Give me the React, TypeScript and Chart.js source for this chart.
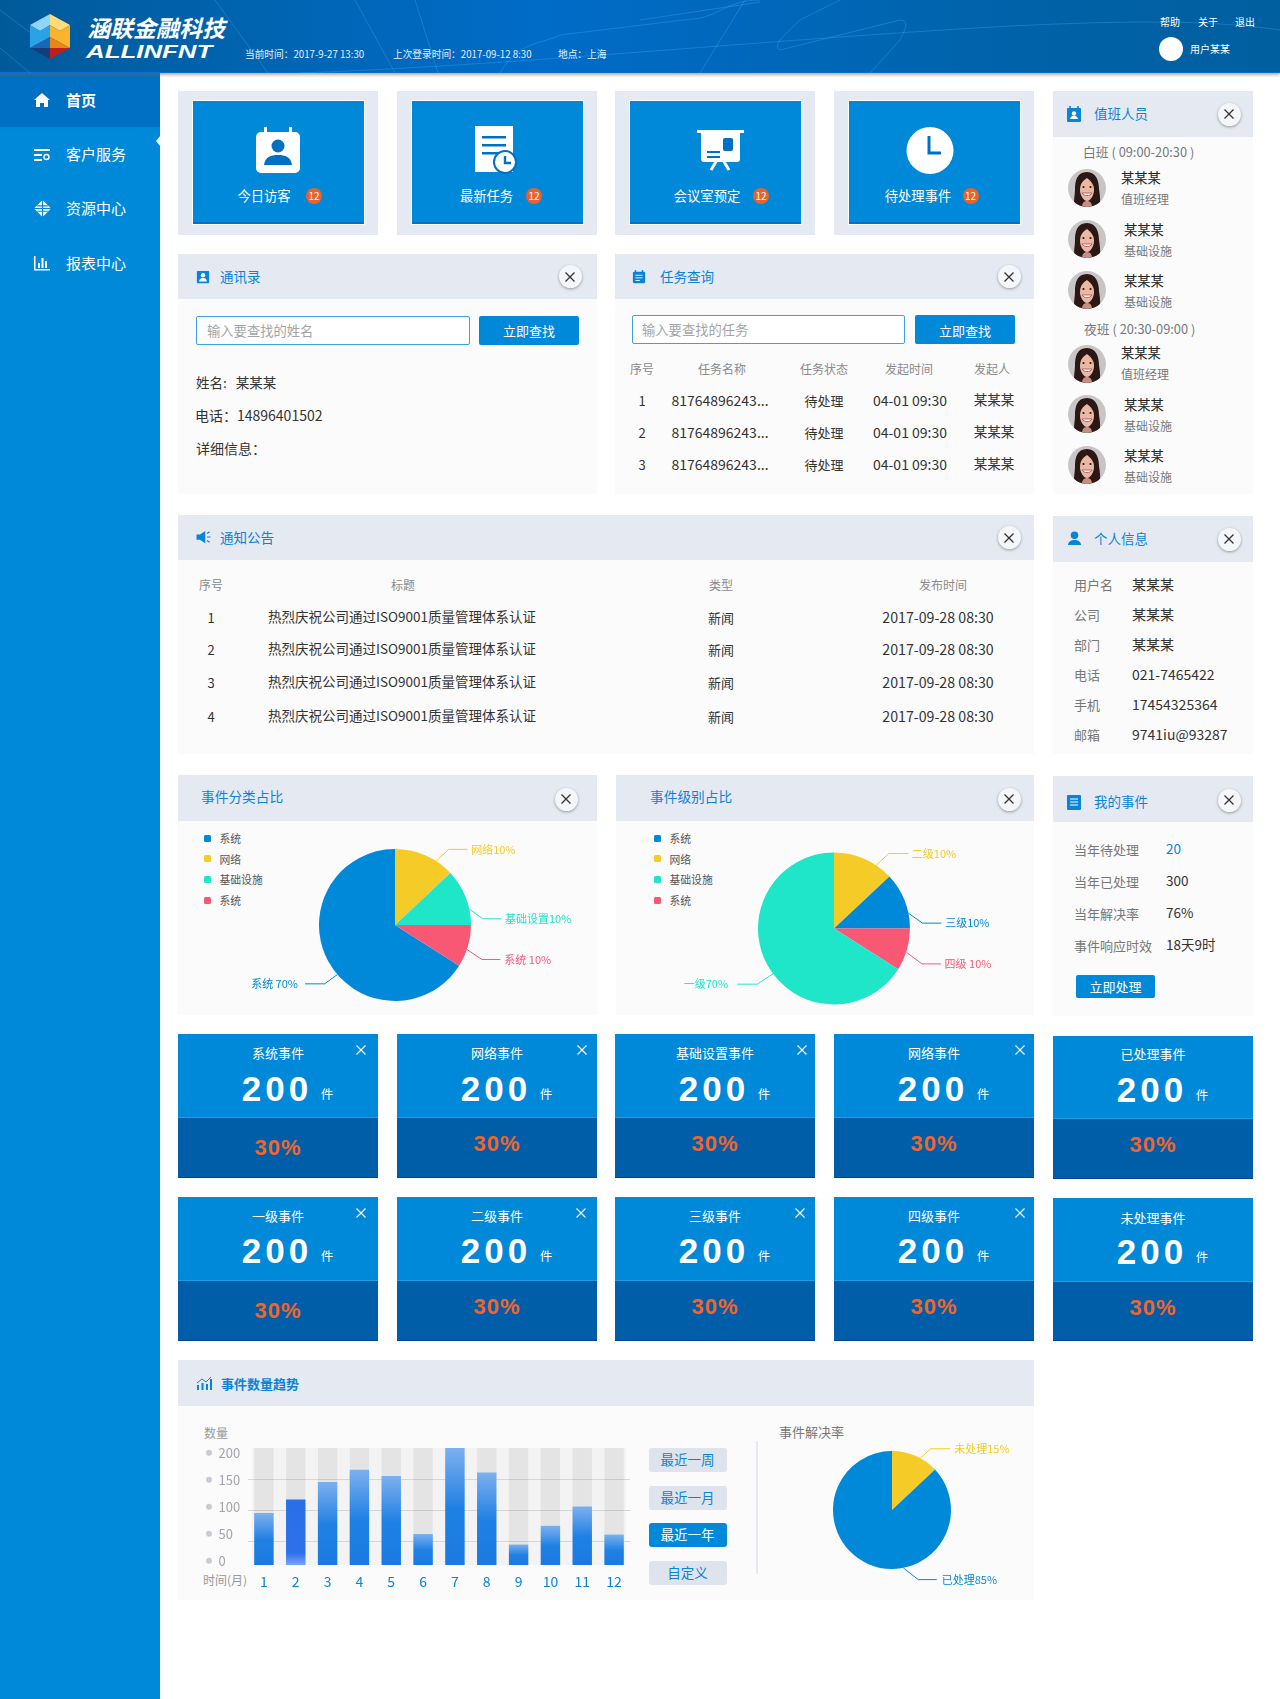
import React, { useEffect, useRef } from "react";
import { Chart, registerables } from "chart.js";

Chart.register(...registerables);

const FONT = '"Noto Sans CJK SC","Noto Sans",sans-serif';
const BLUE = "#0089d8";
const YELLOW = "#f4cb27";
const TEAL = "#1fe6c8";
const PINK = "#f95875";

// ---- chart data ----
const months = ["1", "2", "3", "4", "5", "6", "7", "8", "9", "10", "11", "12"];
const monthlyEvents = [89, 112, 142, 163, 152, 53, 200, 158, 35, 67, 100, 52];
const monthlyTrack = [200, 200, 200, 200, 200, 200, 200, 200, 200, 200, 200, 200];
const countTicks = [0, 50, 100, 150, 200];
const gridTicks = [50, 100, 150];

const categoryLabels = ["系统 70%", "网络10%", "基础设置10%", "系统 10%"];
const categoryValues = [66, 13, 12, 9];
const categoryColors = [BLUE, YELLOW, TEAL, PINK];

const levelLabels = ["二级10%", "三级10%", "四级 10%", "一级70%"];
const levelValues = [13, 12, 9, 66];
const levelColors = [YELLOW, BLUE, PINK, TEAL];

const rateLabels = ["未处理15%", "已处理85%"];
const rateValues = [13, 87];
const rateColors = [YELLOW, BLUE];

const legendNames = ["系统", "网络", "基础设施", "系统"];
const legendColors = [BLUE, YELLOW, TEAL, PINK];

// ---- page text ----
const navItems = ["首页", "客户服务", "资源中心", "报表中心"];
const notices = ["1", "2", "3", "4"];
const personal = [
  ["用户名", "某某某"], ["公司", "某某某"], ["部门", "某某某"],
  ["电话", "021-7465422"], ["手机", "17454325364"], ["邮箱", "9741iu@93287"],
];
const myEvents = [
  ["当年待处理", "20"], ["当年已处理", "300"], ["当年解决率", "76%"], ["事件响应时效", "18天9时"],
];
const kpiTop = ["系统事件", "网络事件", "基础设置事件", "网络事件", "已处理事件"];
const kpiBottom = ["一级事件", "二级事件", "三级事件", "四级事件", "未处理事件"];
const ranges = ["最近一周", "最近一月", "最近一年", "自定义"];

// ---- layout helpers ----
type TP = { x: number; y: number; s?: number; c?: string; a?: "l" | "c" | "r"; b?: boolean; f?: string; children: any; st?: any };
function T({ x, y, s = 13, c = "#333", a = "l", b, f, children, st }: TP) {
  const tx = a === "l" ? "0" : a === "c" ? "-50%" : "-100%";
  return (
    <div style={{ position: "absolute", left: x, top: y, fontSize: s, color: c, lineHeight: 1, fontWeight: b ? 700 : 400, fontFamily: f || FONT, whiteSpace: "pre", transform: `translate(${tx},-50%)`, ...st }}>
      {children}
    </div>
  );
}
function Box({ x, y, w, h, bg, st, children }: any) {
  return <div style={{ position: "absolute", left: x, top: y, width: w, height: h, background: bg, ...st }}>{children}</div>;
}
function Cross({ cx, cy, size = 10, color = "#333", sw = 1.3 }: any) {
  return (
    <svg style={{ position: "absolute", left: cx - size / 2, top: cy - size / 2 }} width={size} height={size} viewBox="0 0 10 10">
      <path d="M0.5 0.5L9.5 9.5M9.5 0.5L0.5 9.5" stroke={color} strokeWidth={sw} fill="none" />
    </svg>
  );
}
function Close({ cx, cy }: any) {
  return (
    <>
      <div style={{ position: "absolute", left: cx - 11.5, top: cy - 11.5, width: 23, height: 23, borderRadius: "50%", background: "#f4f6f9", boxShadow: "0 1px 3px rgba(0,0,0,.35)" }} />
      <Cross cx={cx} cy={cy} />
    </>
  );
}
function Ic({ x, y, w = 16, h = 16, vb = "0 0 16 16", children }: any) {
  return <svg style={{ position: "absolute", left: x, top: y }} width={w} height={h} viewBox={vb}>{children}</svg>;
}
function Panel({ x, y, w, h, hh, title, tx, close, icon, tsize = 13.5, bold, titleDy = 0, closeDy = 0 }: any) {
  return (
    <>
      <Box x={x} y={y} w={w} h={h} bg="#fbfbfc" />
      <Box x={x} y={y} w={w} h={hh} bg="#e5e9f2" />
      <T x={tx} y={y + hh / 2 + titleDy} s={tsize} c="#0a84d6" b={bold}>{title}</T>
      {icon}
      {close && <Close cx={close} cy={y + hh / 2 + closeDy} />}
    </>
  );
}

function Avatar({ cx, cy }: any) {
  return (
    <div style={{ position: "absolute", left: cx - 19, top: cy - 19, width: 38, height: 38, borderRadius: "50%", overflow: "hidden" }}>
      <svg width="38" height="38" viewBox="0 0 38 38">
        <rect width="38" height="38" fill="#c9c5c6" />
        <path d="M19 3C9 3 7 12 7 20c0 7-2 12 0 18h24c2-6 1-11 0-18 0-8-3-17-12-17z" fill="#2b1713" />
        <path d="M14 38c0-4 2-6 5-6s5 2 5 6z" fill="#c88f80" />
        <path d="M19 9c-5 3-7 7-7 12 0 6 4 11 7 11s7-5 7-11c0-5-2-8-7-12z" fill="#eab9a3" />
        <path d="M14 24c2 3.5 8 3.5 10 0z" fill="#fff" stroke="#b4424a" strokeWidth=".8" />
        <circle cx="15.5" cy="18" r="1.1" fill="#2b1713" />
        <circle cx="22.5" cy="18" r="1.1" fill="#2b1713" />
      </svg>
    </div>
  );
}

// ---- chart components ----
type Leader = { t: number; dx: number; dy: number; run: number; gap: number };
const leaderPlugin = {
  id: "leaders",
  afterDatasetsDraw(chart: any, _a: any, opts: any) {
    const ctx = chart.ctx;
    const arcs = chart.getDatasetMeta(0).data;
    const leaders: Leader[] = opts.leaders || [];
    arcs.forEach((arc: any, i: number) => {
      const l = leaders[i];
      if (!l) return;
      const ang = arc.startAngle + l.t * (arc.endAngle - arc.startAngle);
      const ax = arc.x + arc.outerRadius * Math.cos(ang);
      const ay = arc.y + arc.outerRadius * Math.sin(ang);
      const ex = ax + l.dx;
      const ey = ay + l.dy;
      const fx = ex + l.run;
      const color = arc.options.backgroundColor;
      ctx.save();
      ctx.strokeStyle = color;
      ctx.lineWidth = 1;
      ctx.beginPath();
      ctx.moveTo(ax, ay);
      ctx.lineTo(ex, ey);
      ctx.lineTo(fx, ey);
      ctx.stroke();
      ctx.fillStyle = color;
      ctx.font = `11px ${FONT}`;
      ctx.textBaseline = "middle";
      ctx.textAlign = l.run > 0 ? "left" : "right";
      ctx.fillText(chart.data.labels[i], fx + (l.run > 0 ? l.gap : -l.gap), ey);
      ctx.restore();
    });
  },
};

function Pie({ x, y, w, h, pad, labels, values, colors, rotation, radius, leaders }: any) {
  const ref = useRef<HTMLCanvasElement>(null);
  useEffect(() => {
    const chart = new Chart(ref.current as any, {
      type: "pie",
      data: { labels, datasets: [{ data: values, backgroundColor: colors, borderWidth: 0, radius }] },
      options: {
        animation: false,
        responsive: false,
        rotation,
        layout: { padding: pad },
        plugins: { legend: { display: false }, tooltip: { enabled: false }, leaders: { leaders } },
      } as any,
      plugins: [leaderPlugin as any],
    });
    return () => chart.destroy();
  }, []);
  return <canvas ref={ref} width={w} height={h} style={{ position: "absolute", left: x, top: y, width: w, height: h }} />;
}

function barFill(ctx: any) {
  const scale = ctx.chart.scales.y;
  if (!scale || !ctx.chart.chartArea) return "#1f80e4";
  const top = scale.getPixelForValue(monthlyEvents[ctx.dataIndex]);
  const base = scale.getPixelForValue(0);
  const g = ctx.chart.ctx.createLinearGradient(0, top, 0, base);
  if (ctx.dataIndex === 1) {
    g.addColorStop(0, "#2a6ee8");
    g.addColorStop(0.82, "#2e71ea");
    g.addColorStop(1, "#7aa3f2");
  } else {
    g.addColorStop(0, "#7db0ef");
    g.addColorStop(0.52, "#1f80e4");
    g.addColorStop(1, "#1a7ae2");
  }
  return g;
}

const barDecor = {
  id: "barDecor",
  beforeDraw(chart: any) {
    const { ctx, chartArea: a } = chart;
    ctx.save();
    ctx.fillStyle = "#f3f3f3";
    ctx.fillRect(a.left + 4, a.top, a.width - 8, a.height);
    ctx.restore();
  },
  afterDraw(chart: any) {
    const { ctx } = chart;
    const s = chart.scales.yLabels;
    ctx.save();
    ctx.fillStyle = "#c9ccd4";
    countTicks.forEach((v) => {
      ctx.beginPath();
      ctx.arc(19, s.getPixelForValue(v), 3, 0, Math.PI * 2);
      ctx.fill();
    });
    ctx.restore();
  },
};

function Bars() {
  const ref = useRef<HTMLCanvasElement>(null);
  useEffect(() => {
    const chart = new Chart(ref.current as any, {
      type: "bar",
      data: {
        labels: months,
        datasets: [
          { data: monthlyEvents, backgroundColor: barFill, order: 1, yAxisID: "y" },
          { data: monthlyTrack, backgroundColor: "rgba(0,0,0,0.06)", order: 2, yAxisID: "y" },
        ],
      },
      options: {
        animation: false,
        responsive: false,
        layout: { padding: { top: 12, left: 28.6 } },
        datasets: { bar: { grouped: false, barPercentage: 0.61, categoryPercentage: 1, borderWidth: 0 } },
        plugins: { legend: { display: false }, tooltip: { enabled: false } },
        scales: {
          x: {
            offset: true,
            grid: { display: false },
            border: { display: false },
            ticks: { color: "#0a84d6", font: { size: 14, family: FONT }, padding: 0, maxRotation: 0, autoSkip: false },
            afterFit: (s: any) => { s.height = 30; },
          },
          y: { display: false, min: 0, max: 200 },
          // the reference's printed count labels sit slightly inside the plot, so they have their own axis
          yLabels: {
            position: "left",
            min: -8.1,
            max: 208.7,
            grid: { display: false },
            border: { display: false },
            afterBuildTicks: (s: any) => { s.ticks = countTicks.map((value) => ({ value })); },
            ticks: { color: "#a2a5ab", font: { size: 13, family: FONT }, crossAlign: "far", padding: 0 },
            afterFit: (s: any) => { s.width = 29.4; s.paddingTop = 0; s.paddingBottom = 0; },
          },
          // faint rules of the reference, evenly spaced down from the top of the plot
          yGrid: {
            position: "left",
            min: 12.5,
            max: 200,
            border: { display: false },
            grid: { color: "#d6d6d6", drawTicks: false },
            afterBuildTicks: (s: any) => { s.ticks = gridTicks.map((value) => ({ value })); },
            ticks: { display: false },
            afterFit: (s: any) => { s.width = 0; },
          },
        },
      } as any,
      plugins: [barDecor as any],
    });
    return () => chart.destroy();
  }, []);
  return <canvas ref={ref} width={440} height={159} style={{ position: "absolute", left: 190, top: 1436, width: 440, height: 159 }} />;
}

// ---- static sections ----
function Header() {
  return (
    <>
      <Box x={0} y={0} w={1280} h={73} bg="linear-gradient(90deg,#005a9a 0%,#0063ae 18%,#006cc8 42%,#0068bc 58%,#0062a8 80%,#005f9f 100%)" st={{ boxShadow: "0 2px 3px rgba(130,100,70,.55)", borderBottom: "1px solid #0a6fd0", boxSizing: "border-box" }} />
      <svg style={{ position: "absolute", left: 0, top: 0 }} width="1280" height="73" viewBox="0 0 1280 73">
        <g fill="none" stroke="#4fb2ff" strokeOpacity=".3" strokeWidth="1">
          <path d="M300 73C520 65 760 40 1010 26C1100 22 1200 18 1280 30" />
          <path d="M0 10L40 40M0 48L30 73M215 0L268 73M355 0L395 73M415 0L438 73" />
          <path d="M500 73C520 40 540 45 560 35L700 18C720 14 730 0 760 0" />
          <path d="M640 20L760 2M780 50L900 20C910 20 905 30 900 40L870 73M780 50C770 46 790 30 800 20L840 0" />
          <path d="M745 0L700 73" />
        </g>
      </svg>
      <svg style={{ position: "absolute", left: 30, top: 14 }} width="40" height="45" viewBox="0 0 40 45">
        <polygon points="20,0 0,11 10,17 20,11" fill="#8fd5f7" />
        <polygon points="20,0 40,11 30,17 20,11" fill="#ffdb7a" />
        <polygon points="0,11 10,17 20,11 20,23 0,34" fill="#2aa3e6" />
        <polygon points="40,11 30,17 20,11 20,23 40,34" fill="#f7b42c" />
        <polygon points="0,34 20,23 20,34" fill="#1668b8" />
        <polygon points="40,34 20,23 20,34" fill="#e88618" />
        <polygon points="0,34 20,34 20,45" fill="#133e7c" />
        <polygon points="40,34 20,34 20,45" fill="#bd1f1b" />
      </svg>
      <T x={87} y={27} s={23} c="#fff" b st={{ fontStyle: "italic" }}>涵联金融科技</T>
      <T x={86} y={51} s={19} c="#fff" b f='"Liberation Sans",sans-serif' st={{ fontStyle: "italic", transform: "translate(0,-50%) scaleX(1.36)", transformOrigin: "left center" }}>ALLINFNT</T>
      <T x={245} y={55} s={9.7} c="#e3f0ff">当前时间：2017-9-27 13:30</T>
      <T x={393} y={55} s={9.7} c="#e3f0ff">上次登录时间：2017-09-12 8:30</T>
      <T x={558} y={55} s={9.7} c="#e3f0ff">地点：上海</T>
      <T x={1160} y={22} s={10} c="#fff">帮助</T>
      <T x={1198} y={22} s={10} c="#fff">关于</T>
      <T x={1235} y={22} s={10} c="#fff">退出</T>
      <div style={{ position: "absolute", left: 1158.5, top: 37, width: 24, height: 24, borderRadius: "50%", background: "#fff" }} />
      <T x={1190} y={49} s={10} c="#fff">用户某某</T>
    </>
  );
}

function Sidebar() {
  const ys = [99, 153, 207, 262];
  return (
    <>
      <Box x={0} y={73} w={160} h={1626} bg={BLUE} />
      <Box x={0} y={73} w={160} h={54} bg="#0070c4" />
      <div style={{ position: "absolute", left: 156, top: 135, width: 0, height: 0, borderTop: "6px solid transparent", borderBottom: "6px solid transparent", borderRight: "5px solid #fff" }} />
      {navItems.map((n, i) => <T key={i} x={66} y={ys[i]} s={15} c="#fff" b={i === 0}>{n}</T>)}
      <Ic x={34} y={92}><path d="M8 1L0 8h2v7h4v-4h4v4h4V8h2z" fill="#fff" /></Ic>
      <Ic x={34} y={147}><path d="M0 2h16v2H0zM0 7h8v2H0zM0 12h8v2H0z" fill="#fff" /><circle cx="12.5" cy="10" r="2.5" fill="none" stroke="#fff" strokeWidth="1.4" /></Ic>
      <Ic x={34} y={200} w={17} h={17} vb="0 0 16 16">
        <polygon points="8,0 16,8 8,16 0,8" fill="#fff" />
        <path d="M8 0v16M0 8h16M3 5.500h10M3 10.500h10" stroke={BLUE} strokeWidth="1" />
      </Ic>
      <Ic x={34} y={255}><path d="M0 1h1.5v13H16v1.5H0zM4 8h2v5H4zM7.5 3h2v10h-2zM11 6h2v7h-2z" fill="#fff" /></Ic>
    </>
  );
}

function TopCards() {
  const xs = [178, 397, 615, 834];
  const names = ["今日访客", "最新任务", "会议室预定", "待处理事件"];
  const textX = [264, 486.5, 707, 918];
  const badgeX = [314, 534, 761, 970.5];
  return (
    <>
      {xs.map((x, i) => (
        <React.Fragment key={i}>
          <Box x={x} y={91} w={200} h={144} bg="#e5e9f2" />
          <Box x={x + 14} y={100} w={173} h={125} bg={BLUE} st={{ border: "1px solid #fff", borderBottom: "1px solid #fff", boxShadow: "inset 0 -2px 0 #0072c6", boxSizing: "border-box" }} />
          <T x={textX[i]} y={196} a="c" s={13.3} c="#fff">{names[i]}</T>
          <div style={{ position: "absolute", left: badgeX[i] - 8, top: 188, width: 16, height: 16, borderRadius: "50%", background: "#e8622a" }} />
          <T x={badgeX[i]} y={196} a="c" s={10} c="#fff">12</T>
        </React.Fragment>
      ))}
      <Ic x={256} y={127} w={44} h={46} vb="0 0 44 46">
        <rect x="8" y="0" width="3" height="8" fill="#fff" /><rect x="33" y="0" width="3" height="8" fill="#fff" />
        <rect x="0" y="5" width="44" height="41" rx="5" fill="#fff" />
        <circle cx="22" cy="19" r="6.5" fill="#0070c4" /><path d="M8 38c1-8 7-10 14-10s13 2 14 10z" fill="#0070c4" />
      </Ic>
      <Ic x={475} y={126} w={42} h={48} vb="0 0 42 48">
        <rect x="0" y="0" width="38" height="46" fill="#fff" />
        <path d="M7 10h24v2.5H7zM7 18h24v2.5H7zM7 26h16v2.5H7z" fill="#0070c4" />
        <circle cx="30" cy="36" r="11" fill="#fff" stroke="#0070c4" strokeWidth="2" />
        <path d="M30 30v7h6" fill="none" stroke="#0070c4" strokeWidth="2.4" />
      </Ic>
      <Ic x={697} y={130} w={47} h={41} vb="0 0 47 41">
        <rect x="0" y="0" width="47" height="3" fill="#fff" />
        <path d="M4 2h39v27a3 3 0 01-3 3H7a3 3 0 01-3-3z" fill="#fff" />
        <path d="M10 21h13v2H10zM10 26h13v2H10z" fill="#0070c4" />
        <rect x="26" y="8" width="10" height="13" rx="2" fill="#0070c4" />
        <path d="M20 30l-6 10M26 30l6 10" stroke="#fff" strokeWidth="3" />
      </Ic>
      <Ic x={906} y={127} w={48} h={47} vb="0 0 48 47">
        <circle cx="24" cy="23.5" r="23.5" fill="#fff" />
        <path d="M23 9v17h12" fill="none" stroke="#0070c4" strokeWidth="3" />
      </Ic>
    </>
  );
}

const blueIcon = (p: any) => <Ic {...p} />;

function Contact() {
  return (
    <>
      <Panel x={178} y={254} w={419} h={240} hh={45} title="通讯录" tx={220} close={570}
        icon={blueIcon({ x: 196, y: 270, w: 14, h: 14, children: <><rect x="1" y="1" width="14" height="14" rx="1" fill="#0a84d6" /><circle cx="8" cy="6" r="2.5" fill="#fff" /><path d="M3.5 13c.5-3 2-4 4.5-4s4 1 4.5 4z" fill="#fff" /></> })} />
      <Box x={196} y={316} w={274} h={29} bg="#fff" st={{ border: "1px solid #3fa0e0", boxSizing: "border-box", borderRadius: 2 }} />
      <T x={207} y={330.5} s={13.3} c="#a4a4a4">输入要查找的姓名</T>
      <Box x={479} y={316} w={100} h={29} bg={BLUE} st={{ borderRadius: 2 }} />
      <T x={529} y={330} a="c" c="#fff">立即查找</T>
      <T x={196} y={382.5} s={13.5}>{"姓名:   某某某"}</T>
      <T x={195} y={415} s={14}>电话：14896401502</T>
      <T x={196} y={447.5} s={14}>详细信息：</T>
    </>
  );
}

function Tasks() {
  const ys = [400, 432, 464];
  const head = [["序号", 642], ["任务名称", 722], ["任务状态", 824], ["发起时间", 909], ["发起人", 992]];
  return (
    <>
      <Panel x={615} y={254} w={419} h={240} hh={45} title="任务查询" tx={660} close={1009}
        icon={blueIcon({ x: 632, y: 270, w: 14, h: 14, children: <><rect x="1" y="2" width="14" height="13" rx="1.5" fill="#0a84d6" /><path d="M4 6h8M4 9h8M4 12h5" stroke="#fff" strokeWidth="1" /><path d="M4 0v3M12 0v3" stroke="#0a84d6" strokeWidth="1.6" /></> })} />
      <Box x={632} y={315} w={273} h={29} bg="#fff" st={{ border: "1px solid #3fa0e0", boxSizing: "border-box", borderRadius: 2 }} />
      <T x={642} y={330} s={13.3} c="#a4a4a4">输入要查找的任务</T>
      <Box x={915} y={315} w={100} h={29} bg={BLUE} st={{ borderRadius: 2 }} />
      <T x={965} y={329.5} a="c" c="#fff">立即查找</T>
      {head.map(([h, x]: any, i) => <T key={i} x={x} y={368.5} a="c" s={12} c="#8a8a8a">{h}</T>)}
      {ys.map((y, i) => (
        <React.Fragment key={i}>
          <T x={642} y={y} a="c">{i + 1}</T>
          <T x={720} y={y} a="c" s={14}>81764896243...</T>
          <T x={824} y={y} a="c">待处理</T>
          <T x={910} y={y} a="c" s={14}>04-01 09:30</T>
          <T x={994} y={y} a="c" s={13.5}>某某某</T>
        </React.Fragment>
      ))}
    </>
  );
}

function Duty() {
  const rows = [
    [188, 178, 199, 1121, "值班经理"], [239, 230, 251, 1124, "基础设施"], [290, 281, 302, 1124, "基础设施"],
    [364, 353, 374, 1121, "值班经理"], [414, 405, 426, 1124, "基础设施"], [465, 456, 477, 1124, "基础设施"],
  ] as any[];
  return (
    <>
      <Panel x={1053} y={91} w={200} h={403} hh={46} title="值班人员" tx={1094} close={1229}
        icon={blueIcon({ x: 1066, y: 106, w: 16, h: 16, children: <><rect x="1" y="2" width="14" height="14" rx="1" fill="#0a84d6" /><path d="M4 0v4M12 0v4" stroke="#0a84d6" strokeWidth="1.6" /><circle cx="8" cy="7.5" r="2.2" fill="#fff" /><path d="M4 13c.5-2.5 2-3 4-3s3.500.5 4 3z" fill="#fff" /></> })} />
      <T x={1083} y={152} s={12.8} c="#777">白班 ( 09:00-20:30 )</T>
      <T x={1084} y={329} s={12.8} c="#777">夜班 ( 20:30-09:00 )</T>
      {rows.map(([cy, ny, ry, x, role], i) => (
        <React.Fragment key={i}>
          <Avatar cx={1087} cy={cy} />
          <T x={x} y={ny} s={13.3} c="#222">某某某</T>
          <T x={x} y={ry} s={12} c="#777">{role}</T>
        </React.Fragment>
      ))}
    </>
  );
}

function Notice() {
  const ys = [617, 649, 682, 716];
  return (
    <>
      <Panel x={178} y={515} w={856} h={239} hh={45} title="通知公告" tx={220} close={1009}
        icon={blueIcon({ x: 196, y: 530, w: 15, h: 14, children: <><path d="M0 5h4l6-4v14l-6-4H0z" fill="#0a84d6" /><path d="M12 4l3-2M12 8h4M12 12l3 2" stroke="#0a84d6" strokeWidth="1.3" /></> })} />
      <T x={211} y={585} a="c" s={12} c="#8a8a8a">序号</T>
      <T x={403} y={585} a="c" s={12} c="#8a8a8a">标题</T>
      <T x={721} y={585} a="c" s={12} c="#8a8a8a">类型</T>
      <T x={943} y={585} a="c" s={12} c="#8a8a8a">发布时间</T>
      {notices.map((n, i) => (
        <React.Fragment key={i}>
          <T x={211} y={ys[i]} a="c">{n}</T>
          <T x={268} y={ys[i]} s={13.5}>热烈庆祝公司通过ISO9001质量管理体系认证</T>
          <T x={721} y={ys[i]} a="c">新闻</T>
          <T x={938} y={ys[i]} a="c" s={14.2}>2017-09-28 08:30</T>
        </React.Fragment>
      ))}
    </>
  );
}

function Personal() {
  const ys = [584, 614, 644, 674, 704, 734];
  return (
    <>
      <Panel x={1053} y={516} w={200} h={238} hh={46} title="个人信息" tx={1094} close={1229}
        icon={blueIcon({ x: 1067, y: 531, w: 15, h: 15, children: <><circle cx="8" cy="4.500" r="4" fill="#0a84d6" /><path d="M1 15c.5-4 3-5.500 7-5.500s6.500 1.500 7 5.500z" fill="#0a84d6" /></> })} />
      {personal.map(([k, v], i) => (
        <React.Fragment key={i}>
          <T x={1074} y={ys[i]} c="#777">{k}</T>
          <T x={1132} y={ys[i]} s={14}>{v}</T>
        </React.Fragment>
      ))}
    </>
  );
}

function MyEvents() {
  const ys = [849, 881, 913, 945];
  return (
    <>
      <Panel x={1053} y={776} w={200} h={240} hh={46} title="我的事件" tx={1094} close={1229} titleDy={3} closeDy={1}
        icon={blueIcon({ x: 1066, y: 794, w: 16, h: 16, children: <><rect x="1" y="1" width="14" height="15" rx="1" fill="#0a84d6" /><path d="M4 5h8M4 8h8M4 11h8" stroke="#fff" strokeWidth="1.2" /></> })} />
      {myEvents.map(([k, v], i) => (
        <React.Fragment key={i}>
          <T x={1074} y={ys[i]} c="#777">{k}</T>
          <T x={1166} y={ys[i]} s={13.5} c={i === 0 ? "#0a84d6" : "#333"}>{v}</T>
        </React.Fragment>
      ))}
      <Box x={1076} y={975} w={79} h={23} bg={BLUE} st={{ borderRadius: 2 }} />
      <T x={1115.5} y={986} a="c" c="#fff">立即处理</T>
    </>
  );
}

function Legend({ x, y }: any) {
  return (
    <>
      {legendNames.map((n, i) => (
        <React.Fragment key={i}>
          <div style={{ position: "absolute", left: x, top: y + i * 20.7 - 3.5, width: 7, height: 7, borderRadius: 1.5, background: legendColors[i] }} />
          <T x={x + 16} y={y + i * 20.7} s={10.8} c="#555">{n}</T>
        </React.Fragment>
      ))}
    </>
  );
}

function Kpi({ x, top, mid, bottom, name, titleY, numY, pctY, crossX }: any) {
  const cx = x + 100;
  return (
    <>
      <Box x={x} y={top} w={200} h={mid - top} bg={BLUE} />
      <Box x={x} y={mid - 1} w={200} h={1} bg="#1a9ee8" />
      <Box x={x} y={mid} w={200} h={bottom - mid} bg="#005ea8" st={{ borderBottom: "1px solid #00459a", boxSizing: "border-box" }} />
      <T x={cx} y={titleY} a="c" s={13} c="#fff">{name}</T>
      <T x={cx - 1} y={numY} a="c" s={35} c="#fff" b f='"Liberation Sans",sans-serif' st={{ letterSpacing: 4 }}>200</T>
      <T x={cx + 49} y={numY + 6} a="c" s={12.5} c="#fff">件</T>
      <T x={cx} y={pctY} a="c" s={22} c="#f0652a" b f='"Liberation Sans",sans-serif' st={{ letterSpacing: 1 }}>30%</T>
      {crossX ? <Cross cx={crossX} cy={titleY - 2} size={10} color="#fff" sw={1.1} /> : null}
    </>
  );
}

function KpiRows() {
  const xs = [178, 397, 615, 834, 1053];
  const cross1 = [361, 582, 802, 1020, 0];
  const cross2 = [361, 581, 800, 1020, 0];
  const pct1 = [1148, 1144, 1144, 1144, 1145];
  const pct2 = [1311, 1307, 1307, 1307, 1308];
  return (
    <>
      {xs.map((x, i) => (
        <React.Fragment key={i}>
          <Kpi x={x} top={i === 4 ? 1036 : 1034} mid={i === 4 ? 1119 : 1118} bottom={i === 4 ? 1179 : 1178} name={kpiTop[i]} titleY={i === 4 ? 1053 : 1052} numY={i === 4 ? 1089 : 1088} pctY={pct1[i]} crossX={cross1[i]} />
          <Kpi x={x} top={i === 4 ? 1198 : 1197} mid={i === 4 ? 1282 : 1281} bottom={1341} name={kpiBottom[i]} titleY={i === 4 ? 1217 : 1215} numY={i === 4 ? 1251 : 1250} pctY={pct2[i]} crossX={cross2[i]} />
        </React.Fragment>
      ))}
    </>
  );
}

function Trend() {
  const btn = [1448, 1486, 1523, 1561];
  return (
    <>
      <Panel x={178} y={1360} w={856} h={240} hh={46} title="事件数量趋势" tx={221} bold tsize={13}
        icon={blueIcon({ x: 196, y: 1376, w: 16, h: 14, vb: "0 0 16 14", children: <><path d="M1 9h2v5H1zM5.500 7h2v7h-2zM10 8h2v6h-2zM14 3h2v11h-2z" fill="#0a84d6" /><path d="M1 7l5-4 4 3 5-5" stroke="#0a84d6" fill="none" /></> })} />
      <T x={204} y={1433} s={12} c="#999">数量</T>
      <T x={203} y={1580} s={12} c="#999">时间(月)</T>
      <Bars />
      {ranges.map((r, i) => (
        <React.Fragment key={i}>
          <Box x={648.5} y={btn[i]} w={78} h={24} bg={i === 2 ? BLUE : "#dfe3ec"} st={{ borderRadius: 3 }} />
          <T x={687.5} y={btn[i] + 12} a="c" s={13.5} c={i === 2 ? "#fff" : "#0a84d6"}>{r}</T>
        </React.Fragment>
      ))}
      <Box x={756} y={1441} w={2} h={133} bg="#e5e9f2" />
      <T x={779} y={1431} s={13} c="#777">事件解决率</T>
      <Pie x={760} y={1406} w={274} h={194} pad={{ right: 10, top: 14 }} labels={rateLabels} values={rateValues} colors={rateColors} rotation={0} radius={59}
        leaders={[{ t: 0.61, dx: 10.7, dy: -9.4, run: 19.3, gap: 4 }, { t: 0.39, dx: 15, dy: 11.7, run: 18.4, gap: 5 }]} />
    </>
  );
}

export default function App() {
  return (
    <div style={{ position: "absolute", left: 0, top: 0, width: 1280, height: 1699, background: "#fff", overflow: "hidden", fontFamily: FONT }}>
      <Sidebar />
      <Header />
      <TopCards />
      <Duty />
      <Contact />
      <Tasks />
      <Notice />
      <Personal />
      <Panel x={178} y={775} w={419} h={240} hh={46} title="事件分类占比" tx={201} close={566} tsize={13.7} titleDy={-1} closeDy={1} />
      <Legend x={203.5} y={838} />
      <Pie x={178} y={822} w={419} h={193} pad={{ left: 15, top: 13 }} labels={categoryLabels} values={categoryValues} colors={categoryColors} rotation={-237.6} radius={76}
        leaders={[
          { t: 0.45, dx: -12.7, dy: 9.3, run: -19.7, gap: 7 },
          { t: 0.7, dx: 12.6, dy: -11.7, run: 18.4, gap: 4 },
          { t: 0.72, dx: 13.3, dy: 9.7, run: 18.4, gap: 4 },
          { t: 0.58, dx: 15, dy: 10, run: 18.4, gap: 4 },
        ]} />
      <Panel x={616} y={775} w={418} h={240} hh={46} title="事件级别占比" tx={650} close={1009} tsize={13.7} titleDy={-1} closeDy={1} />
      <Legend x={653.5} y={838} />
      <Pie x={616} y={822} w={418} h={193} pad={{ left: 18, top: 20 }} labels={levelLabels} values={levelValues} colors={levelColors} rotation={0} radius={76}
        leaders={[
          { t: 0.72, dx: 12.6, dy: -11.7, run: 19.7, gap: 3.4 },
          { t: 0.73, dx: 14, dy: 10, run: 19, gap: 3.7 },
          { t: 0.56, dx: 15.7, dy: 11.7, run: 19, gap: 3.7 },
          { t: 0.467, dx: -15.6, dy: 10.3, run: -20, gap: 9.4 },
        ]} />
      <MyEvents />
      <KpiRows />
      <Trend />
    </div>
  );
}
